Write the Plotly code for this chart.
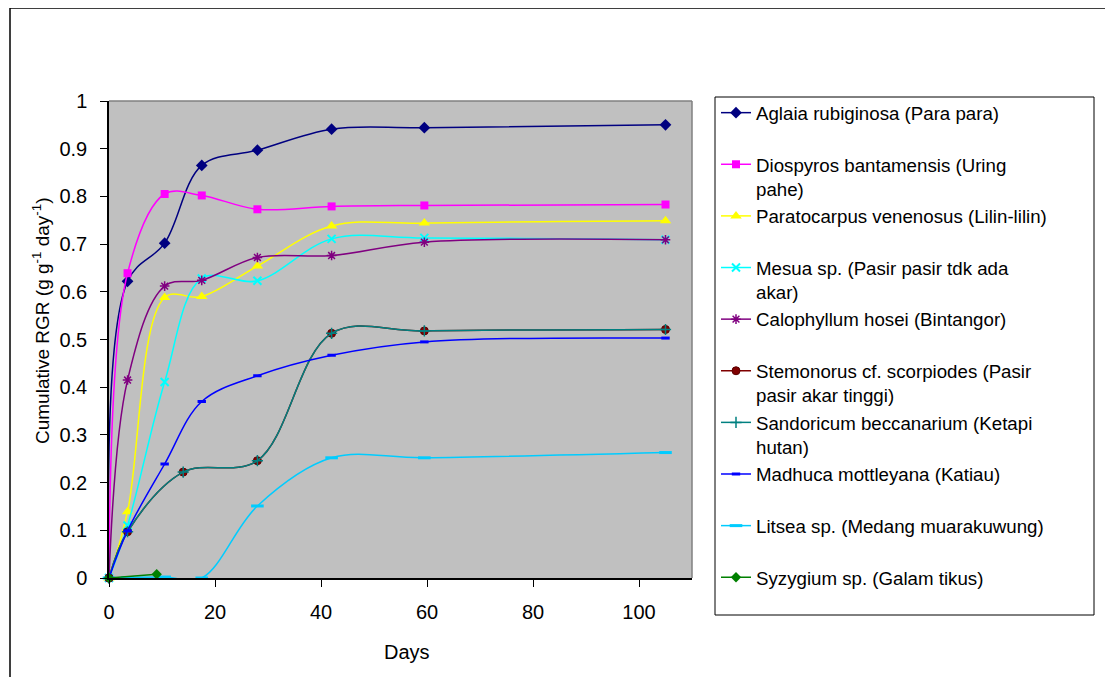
import plotly.graph_objects as go

# ---------------- data ----------------
days = [0, 3.5, 10.5, 17.5, 28, 42, 59.5, 105]
days_stemonorus = [0, 3.5, 14, 28, 42, 59.5, 105]
days_syzygium = [0, 9]

aglaia = [0, 0.622, 0.702, 0.865, 0.897, 0.941, 0.944, 0.950]
diospyros = [0, 0.639, 0.805, 0.802, 0.773, 0.779, 0.781, 0.783]
paratocarpus = [0, 0.139, 0.588, 0.590, 0.654, 0.738, 0.744, 0.749]
mesua = [0, 0.11, 0.411, 0.628, 0.623, 0.711, 0.713, 0.709]
calophyllum = [0, 0.415, 0.612, 0.624, 0.672, 0.676, 0.704, 0.709]
stemonorus = [0, 0.097, 0.222, 0.246, 0.513, 0.518, 0.521]
sandoricum = [0, 0.097, 0.222, 0.246, 0.513, 0.518, 0.521]
madhuca = [0, 0.099, 0.239, 0.370, 0.424, 0.467, 0.495, 0.503]
litsea = [0, 0.001, 0.002, 0.0, 0.151, 0.252, 0.252, 0.263]
syzygium = [0, 0.008]

names = [
    "Aglaia rubiginosa (Para para)<br> ",
    "Diospyros bantamensis (Uring<br>pahe)",
    "Paratocarpus venenosus (Lilin-lilin)<br> ",
    "Mesua sp. (Pasir pasir tdk ada<br>akar)",
    "Calophyllum hosei (Bintangor)<br> ",
    "Stemonorus cf. scorpiodes (Pasir<br>pasir akar tinggi)",
    "Sandoricum beccanarium (Ketapi<br>hutan)",
    "Madhuca mottleyana (Katiau)<br> ",
    "Litsea sp. (Medang muarakuwung)<br> ",
    "Syzygium sp. (Galam tikus)<br> ",
]

x_ticks = [0, 20, 40, 60, 80, 100]
y_ticks = [0, 0.1, 0.2, 0.3, 0.4, 0.5, 0.6, 0.7, 0.8, 0.9, 1]

# ---------------- styles ----------------
series = [
    (days, aglaia, "#000080", dict(symbol="diamond", size=9, color="#000080")),
    (days, diospyros, "#FF00FF", dict(symbol="square", size=8, color="#FF00FF")),
    (days, paratocarpus, "#FFFF00", dict(symbol="triangle-up", size=10, color="#FFFF00")),
    (days, mesua, "#00FFFF", dict(symbol="x-thin-open", size=8, color="#00FFFF", line=dict(width=2, color="#00FFFF"))),
    (days, calophyllum, "#800080", dict(symbol="asterisk-open", size=8, color="#800080", line=dict(width=1.5, color="#800080"))),
    (days_stemonorus, stemonorus, "#800000", dict(symbol="circle", size=8, color="#800000", line=dict(width=1, color="#5a0000"))),
    (days_stemonorus, sandoricum, "#008080", dict(symbol="cross-thin-open", size=8, color="#008080", line=dict(width=1.5, color="#008080"))),
    (days, madhuca, "#0000FF", dict(symbol="line-ew-open", size=6, color="#0000FF", line=dict(width=3, color="#0000FF"))),
    (days, litsea, "#00CCFF", dict(symbol="line-ew-open", size=9, color="#00CCFF", line=dict(width=3, color="#00CCFF"))),
    (days_syzygium, syzygium, "#008000", dict(symbol="diamond", size=8, color="#008000")),
]

FONT = "Liberation Sans, Arial, sans-serif"

fig = go.Figure()
for (xs, ys, col, mk), nm in zip(series, names):
    fig.add_trace(go.Scatter(
        x=xs, y=ys, name=nm, mode="lines+markers",
        line=dict(color=col, width=1.5, shape="spline", smoothing=1.0),
        marker=mk, cliponaxis=False,
    ))

# The page body has an 8px margin, so the figure is offset by OFF px.
OFF = 8
W, H = 1113 - OFF, 677 - OFF
PL, PR, PT, PB = 109 - OFF, 692 - OFF, 101 - OFF, 578 - OFF


def px(xp):
    # xp: x pixel position in the browser window
    return (xp - OFF - PL) / (PR - PL)


def py(yp):
    # yp: y pixel position in the browser window
    return (PB - (yp - OFF)) / (PB - PT)


fig.update_layout(
    width=W, height=H, autosize=False,
    margin=dict(l=PL, r=W - PR, t=PT, b=H - PB, pad=0),
    paper_bgcolor="white", plot_bgcolor="#C0C0C0",
    font=dict(family=FONT, size=20, color="black"),
    showlegend=True,
    legend=dict(
        x=px(716), y=py(94), xanchor="left", yanchor="top",
        font=dict(family=FONT, size=18.7, color="black"),
        bgcolor="rgba(0,0,0,0)", borderwidth=0,
        valign="top", tracegroupgap=0, itemwidth=30,
        maxheight=700,
    ),
    xaxis=dict(
        range=[0, 110], tickmode="array", tickvals=x_ticks,
        ticktext=[str(v) for v in x_ticks],
        showgrid=False, zeroline=False, showline=True, linecolor="black", linewidth=1.5,
        ticks="outside", ticklen=7, tickcolor="black", tickwidth=1,
        ticklabelstandoff=8,
        tickfont=dict(family=FONT, size=20, color="black"),
    ),
    yaxis=dict(
        range=[0, 1], tickmode="array", tickvals=y_ticks,
        ticktext=["0" if v == 0 else ("1" if v == 1 else f"{v:.1f}") for v in y_ticks],
        showgrid=False, zeroline=False, showline=True, linecolor="black", linewidth=1.5,
        ticks="outside", ticklen=7, tickcolor="black", tickwidth=1,
        ticklabelstandoff=9,
        tickfont=dict(family=FONT, size=20, color="black"),
    ),
)

shapes = [
    # plot area top / right border (gray)
    dict(type="line", xref="paper", yref="paper", x0=0, x1=1, y0=1, y1=1,
         line=dict(color="#808080", width=1.5)),
    dict(type="line", xref="paper", yref="paper", x0=1, x1=1, y0=0, y1=1,
         line=dict(color="#808080", width=1.5)),
    # legend box
    dict(type="rect", xref="paper", yref="paper", x0=px(715), x1=px(1094), y0=py(615), y1=py(97),
         line=dict(color="black", width=1), fillcolor="rgba(0,0,0,0)", layer="below"),
    # outer chart frame
    dict(type="rect", xref="paper", yref="paper", x0=px(10), x1=px(1130), y0=py(700), y1=py(8),
         line=dict(color="black", width=1.5), fillcolor="rgba(0,0,0,0)", layer="below"),
]
fig.update_layout(shapes=shapes)

fig.add_annotation(
    x=px(41), y=py(321), xref="paper", yref="paper", showarrow=False,
    text="Cumulative RGR (g g<sup>-1</sup> day<sup>-1</sup>)", textangle=-90,
    font=dict(family=FONT, size=19, color="black"), xanchor="center", yanchor="middle",
)
fig.add_annotation(
    x=px(407), y=py(652), xref="paper", yref="paper", showarrow=False,
    text="Days", font=dict(family=FONT, size=20, color="black"),
    xanchor="center", yanchor="middle",
)

fig.write_html("out.html")
